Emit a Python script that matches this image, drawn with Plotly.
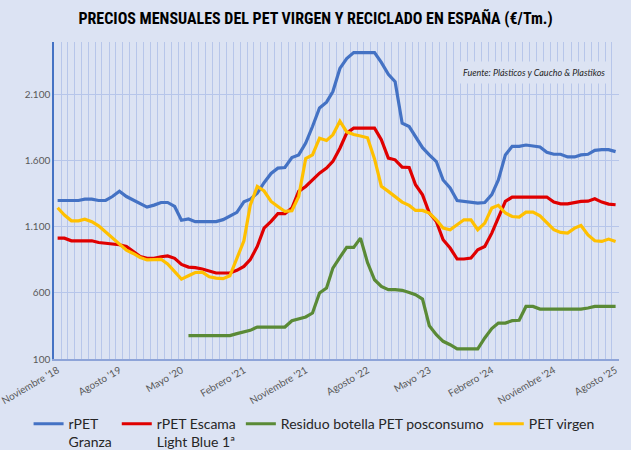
import pandas as pd
import plotly.graph_objects as go

# Meses: noviembre 2018 - agosto 2025
meses = pd.date_range("2018-11-01", periods=82, freq="MS")

# Etiquetas del eje X (cada 9 meses)
etiquetas_fechas = ["2018-11-01", "2019-08-01", "2020-05-01", "2021-02-01", "2021-11-01",
                    "2022-08-01", "2023-05-01", "2024-02-01", "2024-11-01", "2025-08-01"]
etiquetas_texto = ["Noviembre '18", "Agosto '19", "Mayo '20", "Febrero '21", "Noviembre '21",
                   "Agosto '22", "Mayo '23", "Febrero '24", "Noviembre '24", "Agosto '25"]

# Eje Y
y_ticks = [100, 600, 1100, 1600, 2100]
y_textos = ["100", "600", "1.100", "1.600", "2.100"]

# Precios (€/Tm)
rpet_granza = [1300, 1300, 1300, 1300, 1310, 1310, 1300, 1300, 1330, 1370,
               1330, 1305, 1280, 1250, 1265, 1285, 1285, 1255, 1150, 1160,
               1140, 1140, 1140, 1140, 1155, 1180, 1210, 1290, 1310, 1355,
               1435, 1505, 1545, 1550, 1625, 1645, 1735, 1860, 2000, 2045,
               2125, 2300, 2375, 2420, 2420, 2420, 2420, 2345, 2255, 2200,
               1885, 1860, 1785, 1700, 1645, 1595, 1455, 1395, 1300, 1295,
               1290, 1280, 1285, 1345, 1455, 1645, 1710, 1710, 1720, 1715,
               1705, 1665, 1650, 1650, 1630, 1630, 1645, 1650, 1680, 1685,
               1685, 1670]

rpet_escama = [1015, 1015, 995, 995, 995, 995, 982, 977, 972, 965,
               952, 912, 876, 862, 862, 874, 880, 862, 816, 796,
               792, 781, 763, 751, 751, 751, 771, 801, 852, 952,
               1091, 1142, 1200, 1200, 1243, 1369, 1406, 1457, 1507, 1545,
               1596, 1696, 1810, 1848, 1848, 1848, 1848, 1760, 1621, 1608,
               1553, 1550, 1419, 1343, 1205, 1141, 1003, 940, 857, 857,
               864, 927, 952, 1053, 1167, 1293, 1326, 1326, 1326, 1326,
               1326, 1326, 1288, 1275, 1275, 1285, 1293, 1295, 1313, 1288,
               1273, 1268]

residuo_botella = [None] * 19 + [
               277, 277, 277, 277, 277, 277, 277, 292, 304, 317,
               342, 342, 342, 342, 342, 390, 403, 418, 448, 600,
               637, 788, 870, 945, 945, 1015, 830, 700, 650, 625,
               625, 620, 604, 587, 554, 352, 284, 234, 208, 176,
               176, 176, 176, 259, 330, 372, 372, 390, 393, 498,
               498, 478, 478, 478, 478, 478, 478, 478, 486, 498,
               498, 498, 498]

pet_virgen = [1245, 1190, 1146, 1146, 1159, 1140, 1108, 1063, 1020, 975,
              924, 899, 869, 850, 850, 855, 820, 760, 705, 730,
              755, 758, 722, 712, 708, 730, 855, 995, 1265, 1406,
              1372, 1293, 1255, 1217, 1222, 1331, 1618, 1646, 1772, 1754,
              1797, 1900, 1820, 1800, 1788, 1775, 1615, 1408, 1369, 1331,
              1288, 1263, 1225, 1225, 1205, 1154, 1091, 1079, 1116, 1154,
              1154, 1079, 1129, 1243, 1263, 1205, 1179, 1174, 1212, 1212,
              1184, 1134, 1079, 1058, 1053, 1091, 1111, 1040, 995, 990,
              1008, 990]

# Colores
azul = "#4472C4"
rojo = "#E00000"
verde = "#5A8A36"
amarillo = "#FFC000"
fondo = "#DCE3F3"
rejilla = "#B7C6EA"

series = [
    ("rPET<br>Granza", rpet_granza, azul),
    ("rPET Escama<br>Light Blue 1ª", rpet_escama, rojo),
    ("Residuo botella PET posconsumo", residuo_botella, verde),
    ("PET virgen", pet_virgen, amarillo),
]

fig = go.Figure()

for nombre, valores, color in series:
    fig.add_trace(go.Scatter(
        x=meses,
        y=valores,
        name=nombre,
        mode="lines",
        line=dict(color=color, width=3.2),
    ))

fig.update_layout(
    width=631,
    height=450,
    title=dict(
        text="<b>PRECIOS MENSUALES DEL PET VIRGEN Y RECICLADO EN ESPAÑA (€/Tm.)</b>",
        x=0.5,
        xanchor="center",
        y=0.96,
        yanchor="middle",
        font=dict(family="Liberation Sans Narrow, Roboto Condensed, Arial Narrow, sans-serif",
                  size=16, color="#000000"),
    ),
    paper_bgcolor=fondo,
    plot_bgcolor=fondo,
    font=dict(family="Lato, sans-serif", color="#595959"),
    margin=dict(l=54, r=12, t=42, b=91, autoexpand=False),
    showlegend=True,
    legend=dict(
        orientation="h",
        x=-0.045,
        xanchor="left",
        y=-0.155,
        yanchor="top",
        valign="top",
        font=dict(size=14, color="#262626"),
        bgcolor="rgba(0,0,0,0)",
        tracegroupgap=0,
    ),
    annotations=[
        dict(
            text="<i>Fuente: Plásticos y Caucho & Plastikos</i>",
            xref="paper", yref="paper",
            x=0.985, y=0.905,
            xanchor="right", yanchor="middle",
            showarrow=False,
            bgcolor=fondo,
            borderpad=5,
            font=dict(size=9, color="#262626"),
        )
    ],
)

fig.update_xaxes(
    type="date",
    range=["2018-10-16", "2025-08-16"],
    tickmode="array",
    tickvals=etiquetas_fechas,
    ticktext=etiquetas_texto,
    tickangle=-30,
    tickfont=dict(size=10, color="#595959"),
    ticklabeloverflow="allow",
    automargin=False,
    showgrid=False,
    showline=True,
    linecolor="#8EA4D8",
    linewidth=1.5,
    ticks="",
    zeroline=False,
    minor=dict(dtick="M1", tick0="2018-10-16", showgrid=True, gridcolor=rejilla, gridwidth=1),
)

fig.update_yaxes(
    range=[100, 2500],
    tickmode="array",
    tickvals=y_ticks,
    ticktext=y_textos,
    tickfont=dict(size=10, color="#595959"),
    automargin=False,
    showgrid=True,
    gridcolor=rejilla,
    gridwidth=1,
    showline=True,
    linecolor=azul,
    linewidth=1.5,
    zeroline=False,
    ticks="",
)

fig.write_html("out.html", config={"displayModeBar": False},
               post_script="document.body.style.margin='0';")
